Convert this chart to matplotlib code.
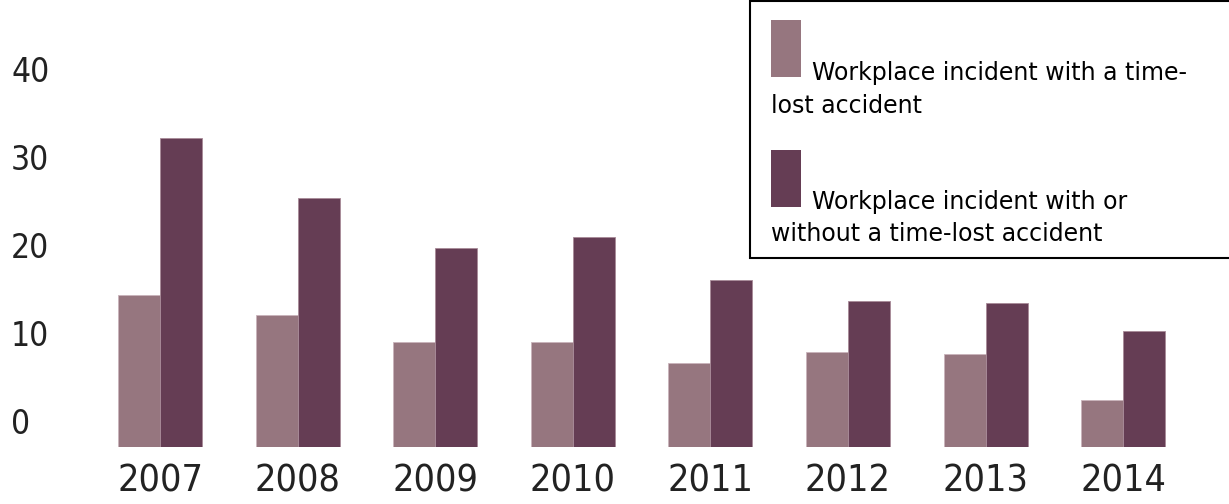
import matplotlib.pyplot as plt
from matplotlib.patches import Rectangle
import numpy as np

years = ["2007", "2008", "2009", "2010", "2011", "2012", "2013", "2014"]
time_lost = [14.7, 12.5, 9.4, 9.4, 7.0, 8.3, 8.05, 2.8]
with_or_without = [32.6, 25.7, 20.1, 21.3, 16.4, 14.1, 13.8, 10.7]
y_ticks = [0, 10, 20, 30, 40]

LIGHT = "#96767f"
DARK = "#653d54"

fig = plt.figure(figsize=(12.29, 5.04), dpi=100)
ax = fig.add_axes([0, 0.1131, 1, 0.8869])

# axis floor sits a bit below the zero label, like the original graphic
floor = -2.5
x = np.arange(len(years))
w = 0.305
ax.bar(x - w / 2, np.array(time_lost) - floor, w, bottom=floor, color=LIGHT,
       edgecolor="#c9b4bb", linewidth=0.6)
ax.bar(x + w / 2, np.array(with_or_without) - floor, w, bottom=floor, color=DARK,
       edgecolor="#a88a98", linewidth=0.6)

ax.set_xlim(-1.163, 7.769)
ax.set_ylim(floor, 48.2)
for s in ax.spines.values():
    s.set_visible(False)

ax.set_xticks(x)
ax.set_xticklabels(years, family="DejaVu Sans", fontstretch="condensed",
                   fontsize=27, color="#222222")
ax.tick_params(axis="x", length=0, pad=12)
ax.set_yticks([])

# y labels drawn inside the plot area
trans = ax.get_yaxis_transform()
for t in y_ticks:
    ax.text(0.009, t, str(t), transform=trans, ha="left", va="center",
            family="DejaVu Sans", fontstretch="condensed", fontsize=24,
            color="#222222")

# legend box
fig.patches.append(Rectangle((750 / 1229, (504 - 258) / 504), 0.5, 257 / 504,
                             transform=fig.transFigure, facecolor="white",
                             edgecolor="black", linewidth=1.5, zorder=5))
fig.patches.append(Rectangle((771 / 1229, (504 - 77) / 504), 30 / 1229, 57 / 504,
                             transform=fig.transFigure, facecolor=LIGHT,
                             edgecolor="none", zorder=6))
fig.patches.append(Rectangle((771 / 1229, (504 - 207) / 504), 30 / 1229, 57 / 504,
                             transform=fig.transFigure, facecolor=DARK,
                             edgecolor="none", zorder=6))

fs = 17
fig.text(812 / 1229, 1 - 73 / 504, "Workplace incident with a time-", fontsize=fs,
         va="center", ha="left", zorder=7)
fig.text(771 / 1229, 1 - 106 / 504, "lost accident", fontsize=fs,
         va="center", ha="left", zorder=7)
fig.text(812 / 1229, 1 - 202 / 504, "Workplace incident with or", fontsize=fs,
         va="center", ha="left", zorder=7)
fig.text(771 / 1229, 1 - 234 / 504, "without a time-lost accident", fontsize=fs,
         va="center", ha="left", zorder=7)

plt.savefig("out.png", dpi=100)
